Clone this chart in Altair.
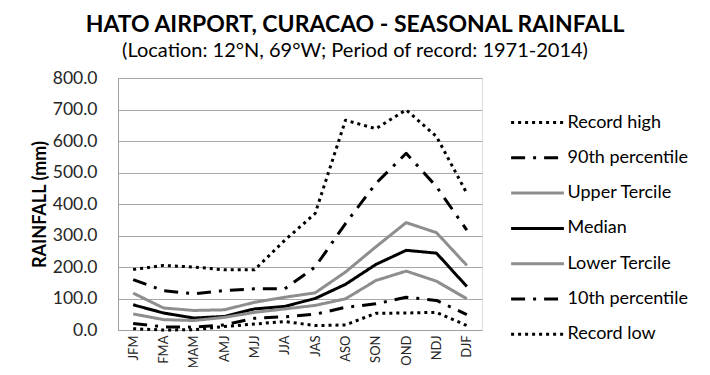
import altair as alt
import pandas as pd

seasons = ["JFM", "FMA", "MAM", "AMJ", "MJJ", "JJA", "JAS", "ASO", "SON", "OND", "NDJ", "DJF"]
series_names = ["Record high", "90th percentile", "Upper Tercile", "Median",
                "Lower Tercile", "10th percentile", "Record low"]

record_high = [192, 205, 200, 191, 191, 285, 370, 666, 639, 699, 614, 434]
p90 = [160, 125, 115, 125, 131, 131, 200, 338, 465, 561, 455, 317]
upper_tercile = [117, 70, 62, 64, 88, 104, 118, 184, 264, 341, 309, 205]
median = [80, 54, 38, 43, 67, 75, 100, 145, 208, 253, 244, 138]
lower_tercile = [51, 33, 30, 40, 56, 67, 78, 99, 157, 187, 155, 99]
p10 = [21, 10, 9, 16, 37, 42, 50, 72, 83, 104, 94, 49]
record_low = [4, 0, 1, 11, 19, 27, 14, 16, 53, 54, 56, 14]

all_values = [record_high, p90, upper_tercile, median, lower_tercile, p10, record_low]

rows = []
for name, vals in zip(series_names, all_values):
    for s, v in zip(seasons, vals):
        rows.append({"season": s, "series": name, "rain": v})
df = pd.DataFrame(rows)

colors = ["#000000", "#000000", "#8e8e8e", "#000000", "#8e8e8e", "#000000", "#000000"]
dashes = [[3, 4], [14, 8, 3, 8], [1, 0], [1, 0], [1, 0], [14, 8, 3, 8], [3, 4]]

FONT = "Lato"

chart = alt.Chart(df).mark_line(strokeWidth=3, strokeJoin="round").encode(
    x=alt.X("season:N", sort=seasons, title=None,
            axis=alt.Axis(labelAngle=-90, labelFontSize=13, labelFont=FONT, labelColor="#262626",
                          ticks=False, labelPadding=5, domainColor="#a0a0a0", grid=False)),
    y=alt.Y("rain:Q", scale=alt.Scale(domain=[0, 800], nice=False),
            axis=alt.Axis(values=list(range(0, 801, 100)), format=".1f", title="RAINFALL (mm)",
                          labelFontSize=17.5, labelFont=FONT, labelColor="#262626", ticks=False,
                          labelPadding=21, domainColor="#a0a0a0", gridColor="#a8a8a8",
                          titleFont=FONT, titleFontSize=18, titleFontWeight="bold",
                          titleColor="#000000", titleAngle=-90, titleX=-78, titleY=126,
                          titleAlign="center", titleBaseline="middle")),
    color=alt.Color("series:N", scale=alt.Scale(domain=series_names, range=colors),
                    legend=alt.Legend(orient="none", legendX=401.5, legendY=26.5, title=None,
                                      symbolType="M-1.6,0H1.6", symbolSize=1089,
                                      symbolStrokeWidth=3, labelFontSize=18, labelFont=FONT,
                                      labelColor="#000000", labelOffset=12, rowPadding=8.3,
                                      padding=0)),
    strokeDash=alt.StrokeDash("series:N", scale=alt.Scale(domain=series_names, range=dashes),
                              legend=alt.Legend(orient="none", legendX=401.5, legendY=26.5,
                                                title=None)),
    detail="series:N",
).properties(
    width=364,
    height=252,
    title=alt.TitleParams(
        text="HATO AIRPORT, CURACAO - SEASONAL RAINFALL",
        subtitle="(Location: 12°N, 69°W; Period of record: 1971-2014)",
        anchor="middle", dx=55, offset=8, font=FONT, fontSize=23, fontWeight="bold",
        color="#000000", subtitleFont=FONT, subtitleFontSize=20, subtitleColor="#000000",
        subtitlePadding=4,
    ),
    autosize=alt.AutoSizeParams(type="none"),
    padding={"left": 110, "top": 70, "right": 220, "bottom": 37},
).configure_view(stroke=None).configure(background="#ffffff")

chart.save("out.html", embed_options={"renderer": "svg", "actions": False})
